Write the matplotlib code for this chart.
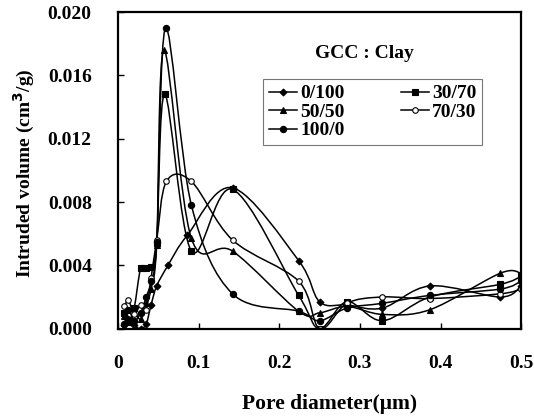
"""Pore size distribution of GCC/clay blends (intruded volume vs pore diameter)."""

import matplotlib

matplotlib.use("Agg")
import matplotlib.pyplot as plt
from matplotlib.patches import PathPatch
from matplotlib.path import Path
from matplotlib.lines import Line2D

# GCC : Clay ratios (volume in cm3/g)
x_0_100 = [0.008, 0.013, 0.020, 0.028, 0.035, 0.041, 0.048, 0.062, 0.086, 0.142, 0.224, 0.250, 0.284, 0.328, 0.387, 0.474, 0.500]
y_0_100 = [0.0002, 0.0006, 0.0002, 0.0000, 0.0003, 0.0015, 0.0027, 0.0040, 0.0059, 0.0089, 0.0043, 0.0017, 0.0015, 0.0013, 0.0027, 0.0020, 0.0027]

x_30_70 = [0.008, 0.013, 0.020, 0.028, 0.035, 0.041, 0.048, 0.058, 0.091, 0.142, 0.224, 0.250, 0.284, 0.328, 0.387, 0.474, 0.500]
y_30_70 = [0.0010, 0.0005, 0.0013, 0.0038, 0.0038, 0.0039, 0.0054, 0.0148, 0.0049, 0.0088, 0.0021, 0.0000, 0.0017, 0.0005, 0.0020, 0.0028, 0.0033]

x_50_50 = [0.008, 0.013, 0.020, 0.028, 0.035, 0.041, 0.048, 0.057, 0.091, 0.142, 0.224, 0.250, 0.284, 0.328, 0.387, 0.474, 0.500]
y_50_50 = [0.0008, 0.0004, 0.0010, 0.0006, 0.0016, 0.0025, 0.0053, 0.0176, 0.0057, 0.0049, 0.0011, 0.0010, 0.0014, 0.0009, 0.0012, 0.0035, 0.0035]

x_70_30 = [0.008, 0.013, 0.020, 0.028, 0.035, 0.041, 0.048, 0.060, 0.091, 0.142, 0.224, 0.250, 0.284, 0.328, 0.387, 0.474, 0.500]
y_70_30 = [0.0014, 0.0018, 0.0009, 0.0015, 0.0012, 0.0032, 0.0056, 0.0093, 0.0093, 0.0056, 0.0030, 0.0000, 0.0016, 0.0020, 0.0019, 0.0022, 0.0025]

x_100_0 = [0.008, 0.013, 0.020, 0.028, 0.035, 0.041, 0.048, 0.059, 0.091, 0.142, 0.224, 0.250, 0.284, 0.328, 0.387, 0.474, 0.500]
y_100_0 = [0.0003, 0.0012, 0.0005, 0.0010, 0.0020, 0.0030, 0.0055, 0.0190, 0.0078, 0.0022, 0.0011, 0.0005, 0.0013, 0.0016, 0.0021, 0.0025, 0.0030]

series = [
    ("0/100", x_0_100, y_0_100, dict(marker="D", ms=3.5, mfc="black")),
    ("30/70", x_30_70, y_30_70, dict(marker="s", ms=4.5, mfc="black")),
    ("50/50", x_50_50, y_50_50, dict(marker="^", ms=4.5, mfc="black")),
    ("70/30", x_70_30, y_70_30, dict(marker="o", ms=4.0, mfc="white")),
    ("100/0", x_100_0, y_100_0, dict(marker="o", ms=4.5, mfc="black")),
]


def smooth_path(xs, ys):
    # Catmull-Rom through the data points, drawn as cubic Bezier segments
    pts = list(zip(xs, ys))
    verts = [pts[0]]
    codes = [Path.MOVETO]
    n = len(pts)
    for i in range(n - 1):
        p0 = pts[max(i - 1, 0)]
        p1 = pts[i]
        p2 = pts[i + 1]
        p3 = pts[min(i + 2, n - 1)]
        c1 = (p1[0] + (p2[0] - p0[0]) / 6, p1[1] + (p2[1] - p0[1]) / 6)
        c2 = (p2[0] - (p3[0] - p1[0]) / 6, p2[1] - (p3[1] - p1[1]) / 6)
        verts += [c1, c2, p2]
        codes += [Path.CURVE4] * 3
    return Path(verts, codes)


plt.rcParams["font.family"] = ["Liberation Serif", "DejaVu Serif"]
plt.rcParams["font.weight"] = "bold"

fig = plt.figure(figsize=(5.34, 4.16), dpi=100)
ax = fig.add_axes([0.221, 0.21, 0.755, 0.761])

handles = {}
for name, xs, ys, style in series:
    ax.add_patch(PathPatch(smooth_path(xs, ys), fill=False, lw=1.1, ec="black"))
    ax.plot(xs, ys, ls="none", mec="black", mew=0.8, **style)
    handles[name] = Line2D([], [], color="black", lw=1.1, mec="black", mew=0.8, **style)

ax.set_xlim(0, 0.5)
ax.set_ylim(0, 0.020)
ax.set_xticks([0, 0.1, 0.2, 0.3, 0.4, 0.5])
ax.set_xticklabels(["0", "0.1", "0.2", "0.3", "0.4", "0.5"])
ax.set_yticks([0.000, 0.004, 0.008, 0.012, 0.016, 0.020])
ax.set_yticklabels([f"{v:.3f}" for v in ax.get_yticks()])
ax.tick_params(direction="in", length=4, width=1.0, labelsize=14)
ax.tick_params(axis="x", pad=19)
ax.tick_params(axis="y", pad=19)
for sp in ax.spines.values():
    sp.set_linewidth(1.6)

ax.set_xlabel("Pore diameter(\u03bcm)", fontsize=15.5, fontweight="bold")
ax.xaxis.set_label_coords(0.525, -0.205)
ax.set_ylabel("Intruded volume (cm$^3$/g)", fontsize=14, fontweight="bold")
ax.yaxis.set_label_coords(-0.2, 0.49)

ax.text(0.61, 0.87, "GCC : Clay", transform=ax.transAxes, fontsize=14,
        fontweight="bold", ha="center", va="center")

order = ["0/100", "50/50", "100/0", "30/70", "70/30"]
leg = ax.legend([handles[k] for k in order], order, ncol=2, loc="upper left",
                bbox_to_anchor=(0.36, 0.789), fontsize=14, frameon=True,
                fancybox=False, edgecolor="#555555", handlelength=1.45,
                handletextpad=0.15, labelspacing=0.05, columnspacing=2.9,
                borderpad=0.3, borderaxespad=0)
leg.get_frame().set_linewidth(0.8)

fig.savefig("out.png", dpi=100)
